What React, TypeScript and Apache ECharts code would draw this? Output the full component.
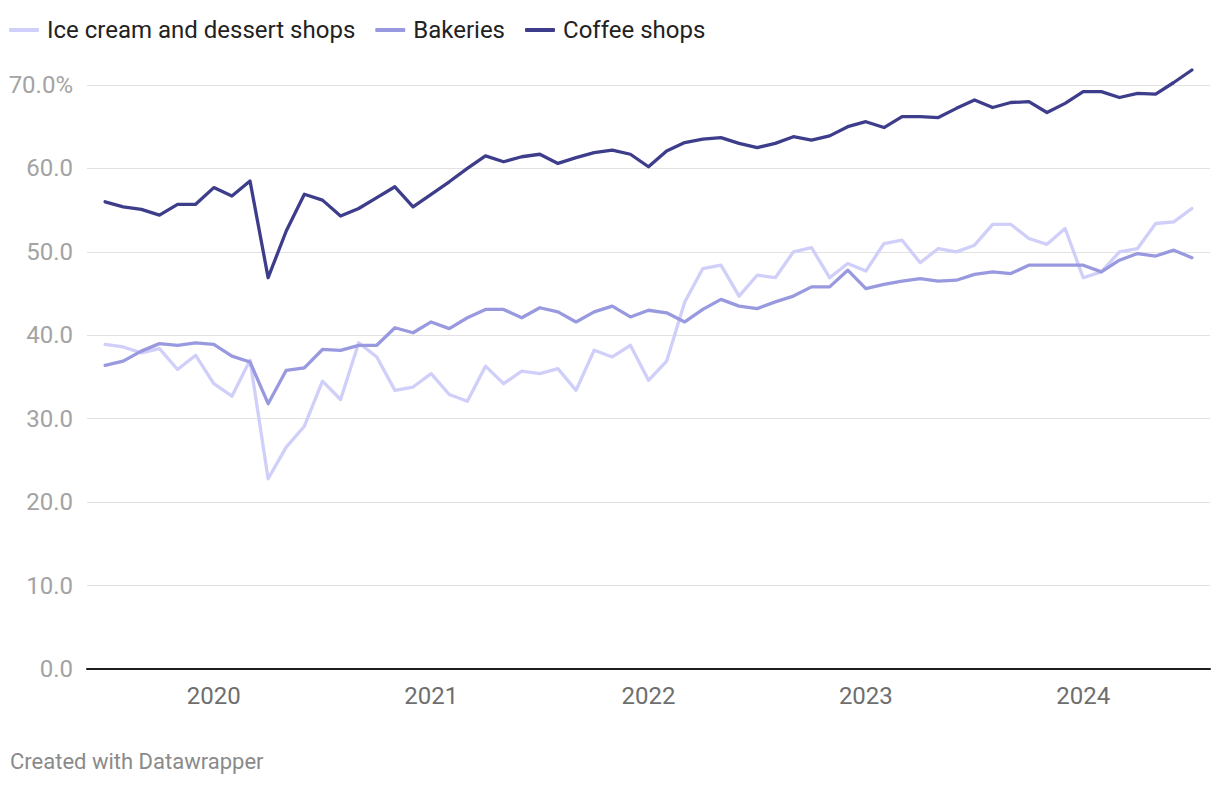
import React, { useEffect, useRef } from "react";
import * as echarts from "echarts";

// Monthly observations, July 2019 – July 2024
const startYear = 2019;
const startMonth = 7; // July
const months: string[] = Array.from({ length: 61 }, (_, i) => {
  const m = startMonth - 1 + i;
  const y = startYear + Math.floor(m / 12);
  const mm = (m % 12) + 1;
  return `${y}-${String(mm).padStart(2, "0")}`;
});

const seriesNames = ["Ice cream and dessert shops", "Bakeries", "Coffee shops"];

const iceCream = [
  38.9, 38.6, 37.9, 38.4, 35.9, 37.6, 34.2, 32.7, 37.0, 22.8, 26.6, 29.1,
  34.5, 32.3, 39.1, 37.4, 33.4, 33.8, 35.4, 32.9, 32.1, 36.3, 34.2, 35.7,
  35.4, 36.0, 33.4, 38.2, 37.4, 38.8, 34.6, 36.9, 44.0, 48.0, 48.4, 44.7,
  47.2, 46.9, 50.0, 50.5, 46.9, 48.6, 47.7, 51.0, 51.4, 48.7, 50.4,
  50.0, 50.8, 53.3, 53.3, 51.6, 50.9, 52.8, 46.9, 47.6, 50.0, 50.4, 53.4, 53.6, 55.2,
];

const bakeries = [
  36.4, 36.9, 38.1, 39.0, 38.8, 39.1, 38.9, 37.5, 36.8, 31.8, 35.8, 36.1,
  38.3, 38.2, 38.8, 38.8, 40.9, 40.3, 41.6, 40.8, 42.1, 43.1, 43.1, 42.1,
  43.3, 42.8, 41.6, 42.8, 43.5, 42.2, 43.0, 42.7, 41.6, 43.1, 44.3, 43.5,
  43.2, 44.0, 44.7, 45.8, 45.8, 47.8, 45.6, 46.1, 46.5, 46.8, 46.5,
  46.6, 47.3, 47.6, 47.4, 48.4, 48.4, 48.4, 48.4, 47.6, 49.0, 49.8, 49.5, 50.2, 49.3,
];

const coffee = [
  56.0, 55.4, 55.1, 54.4, 55.7, 55.7, 57.7, 56.7, 58.5, 46.9, 52.5, 56.9,
  56.2, 54.3, 55.2, 56.5, 57.8, 55.4, 56.9, 58.4, 60.0, 61.5, 60.8, 61.4,
  61.7, 60.6, 61.3, 61.9, 62.2, 61.7, 60.2, 62.1, 63.1, 63.5, 63.7, 63.0,
  62.5, 63.0, 63.8, 63.4, 63.9, 65.0, 65.6, 64.9, 66.2, 66.2, 66.1,
  67.2, 68.2, 67.3, 67.9, 68.0, 66.7, 67.8, 69.2, 69.2, 68.5, 69.0, 68.9, 70.3, 71.8,
];

const yearLabels = ["2020", "2021", "2022", "2023", "2024"];

const colors = ["#cfcff9", "#9999e0", "#3d3d8b"];

export default function App() {
  const ref = useRef<HTMLDivElement>(null);

  useEffect(() => {
    if (!ref.current) return;
    const chart = echarts.init(ref.current, undefined, { renderer: "svg" });
    const mk = (vals: number[]) => vals.map((v, i) => [i, v]);
    const allValues = [iceCream, bakeries, coffee];
    // positions of January of each labelled year, found in the month list
    const yearIdx = yearLabels.map((y) => months.indexOf(`${y}-01`));

    chart.setOption({
      animation: false,
      textStyle: { fontFamily: "Roboto" },
      color: colors,
      legend: {
        left: 4,
        top: 13,
        icon: "roundRect",
        itemWidth: 30,
        itemHeight: 4,
        itemGap: 20,
        textStyle: { fontSize: 24, color: "#222222", fontFamily: "Roboto", padding: [0, 0, 0, 3] },
        data: seriesNames,
      },
      grid: { left: 87, right: 10, top: 85, bottom: 117, containLabel: false },
      xAxis: {
        type: "value",
        min: -1,
        max: months.length,
        splitLine: { show: false },
        axisTick: { show: false },
        axisLine: { show: true, onZero: false, lineStyle: { color: "#1e1e1e", width: 2 } },
        axisLabel: {
          customValues: yearIdx,
          formatter: (v: number) => {
            const k = yearIdx.indexOf(Math.round(v));
            return k >= 0 ? yearLabels[k] : "";
          },
          fontSize: 24,
          color: "#6e6e6e",
          margin: 15,
          fontFamily: "Roboto",
        },
      },
      yAxis: {
        type: "value",
        min: 0,
        max: 70,
        interval: 10,
        axisLine: { show: false },
        axisTick: { show: false },
        splitLine: { show: true, lineStyle: { color: "#e2e2e2", width: 1 } },
        axisLabel: {
          fontSize: 24,
          color: "#a3a3a3",
          margin: 14,
          fontFamily: "Roboto",
          formatter: (v: number) => (v === 70 ? "70.0%" : v.toFixed(1)),
        },
      },
      series: seriesNames.map((name, k) => ({
        name,
        type: "line",
        data: mk(allValues[k]),
        symbol: "none",
        showSymbol: false,
        clip: false,
        lineStyle: { width: 3.3, color: colors[k], cap: "round", join: "round" },
        itemStyle: { color: colors[k] },
        z: 2 + k,
      })),
      graphic: [
        {
          type: "text",
          left: 10,
          top: 750,
          style: {
            text: "Created with Datawrapper",
            fontSize: 22,
            fontFamily: "Roboto",
            fill: "#8a8a8a",
          },
        },
      ],
    });

    return () => chart.dispose();
  }, []);

  return (
    <div
      ref={ref}
      style={{ position: "fixed", left: 0, top: 0, width: 1220, height: 786, background: "#ffffff" }}
    />
  );
}
